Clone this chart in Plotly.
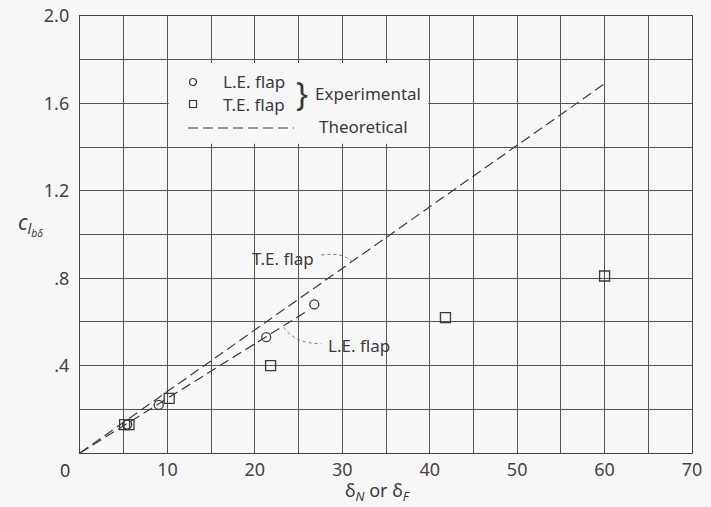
import plotly.graph_objects as go

# ---- data ----
le_x = [5.4, 9.0, 21.3, 26.8]
le_y = [0.13, 0.22, 0.53, 0.68]

te_x = [5.1, 5.6, 10.2, 21.8, 41.8, 60.0]
te_y = [0.13, 0.13, 0.25, 0.40, 0.62, 0.81]

theory_te_x = [0, 60]
theory_te_y = [0, 1.69]
theory_le_x = [0, 26]
theory_le_y = [0, 0.65]

x_tickvals = [0, 5, 10, 15, 20, 25, 30, 35, 40, 45, 50, 55, 60, 65, 70]
x_ticktext = ["", "", "10", "", "20", "", "30", "", "40", "", "50", "", "60", "", "70"]
y_tickvals = [0, 0.2, 0.4, 0.6, 0.8, 1.0, 1.2, 1.4, 1.6, 1.8, 2.0]
y_ticktext = ["", "", ".4", "", ".8", "", "1.2", "", "1.6", "", "2.0"]
corner_label = "0"

BG = "#f7f7f7"
INK = "#3a3a3a"
FONT = "Noto Sans"

# plot area in pixels
L, R, T, B = 80, 692, 16, 453
W, H = 711, 507


def px(x):
    return (x - L) / (R - L)


def py(y):
    return (B - y) / (B - T)


fig = go.Figure()

dash = "10px,5px"
fig.add_trace(go.Scatter(x=theory_te_x, y=theory_te_y, mode="lines",
                         line=dict(color=INK, width=1.2, dash=dash),
                         showlegend=False, hoverinfo="skip"))
fig.add_trace(go.Scatter(x=theory_le_x, y=theory_le_y, mode="lines",
                         line=dict(color=INK, width=1.2, dash=dash),
                         showlegend=False, hoverinfo="skip"))
fig.add_trace(go.Scatter(x=le_x, y=le_y, mode="markers",
                         marker=dict(symbol="circle-open", size=9,
                                     line=dict(color=INK, width=1.3), color=INK),
                         showlegend=False))
fig.add_trace(go.Scatter(x=te_x, y=te_y, mode="markers",
                         marker=dict(symbol="square-open", size=10,
                                     line=dict(color=INK, width=1.3), color=INK),
                         showlegend=False))

shapes = []
# blank area behind the legend (grid interrupted)
shapes.append(dict(type="rect", xref="x", yref="y", x0=10.15, x1=39.85, y0=1.415, y1=1.785,
                   fillcolor=BG, line=dict(width=0), layer="above"))
# legend dashed line
shapes.append(dict(type="line", xref="paper", yref="paper",
                   x0=px(188), x1=px(294), y0=py(128), y1=py(128),
                   line=dict(color=INK, width=1.2, dash=dash), layer="above"))
# legend symbols (pixel sized)
shapes.append(dict(type="circle", xref="paper", yref="paper",
                   xsizemode="pixel", ysizemode="pixel",
                   xanchor=px(193), yanchor=py(82), x0=-3.5, x1=3.5, y0=-3.5, y1=3.5,
                   line=dict(color=INK, width=1.2), fillcolor=BG, layer="above"))
shapes.append(dict(type="rect", xref="paper", yref="paper",
                   xsizemode="pixel", ysizemode="pixel",
                   xanchor=px(193), yanchor=py(104), x0=-3.5, x1=3.5, y0=-3.5, y1=3.5,
                   line=dict(color=INK, width=1.2), fillcolor=BG, layer="above"))
# leader lines
shapes.append(dict(type="path", xref="x", yref="y",
                   path="M 27.6,0.906 Q 30.0,0.92 31.2,0.875",
                   line=dict(color="#777", width=1, dash="dot")))
shapes.append(dict(type="path", xref="x", yref="y",
                   path="M 23.3,0.575 Q 24.6,0.50 27.6,0.50",
                   line=dict(color="#777", width=1, dash="dot")))

ann = []


def text(x, y, s, anchor="left", size=17):
    ann.append(dict(x=px(x), y=py(y), xref="paper", yref="paper", text=s,
                    showarrow=False, xanchor=anchor, yanchor="middle",
                    font=dict(family=FONT, size=size, color=INK)))


text(221, 82, "L.E. flap")
text(221, 104, "T.E. flap")
text(302, 93, "}", "center", 32)
text(313, 94, "Experimental")
text(317, 127, "Theoretical")
text(283, 258, "T.E. flap", "center")
text(326, 345, "L.E. flap")
text(72, 470, corner_label, "right", 18)

# axis titles
ann.append(dict(x=px(30), y=py(224), xref="paper", yref="paper",
                text="<i>c</i><sub><i>l</i><sub><i>bδ</i></sub></sub>",
                showarrow=False, xanchor="center", yanchor="middle",
                font=dict(family=FONT, size=21, color=INK)))
ann.append(dict(x=px(377), y=py(491), xref="paper", yref="paper",
                text="δ<sub><i>N</i></sub> or δ<sub><i>F</i></sub>",
                showarrow=False, xanchor="center", yanchor="middle",
                font=dict(family=FONT, size=18, color=INK)))

fig.update_layout(
    width=W, height=H,
    margin=dict(l=L, r=W - R, t=T, b=H - B, autoexpand=False),
    paper_bgcolor=BG, plot_bgcolor=BG,
    shapes=shapes, annotations=ann,
    showlegend=False,
    font=dict(family=FONT, color=INK),
)
fig.update_xaxes(range=[0, 70], tickvals=x_tickvals, ticktext=x_ticktext,
                 showgrid=True, gridcolor="#555", gridwidth=1,
                 showline=True, linecolor="#444", linewidth=1.3, mirror=True,
                 zeroline=False, ticks="", automargin=False,
                 tickfont=dict(family=FONT, size=18, color="#444"))
fig.update_yaxes(range=[0, 2.0], tickvals=y_tickvals, ticktext=y_ticktext,
                 showgrid=True, gridcolor="#555", gridwidth=1,
                 showline=True, linecolor="#444", linewidth=1.3, mirror=True,
                 zeroline=False, ticks="", ticklabelstandoff=6, automargin=False,
                 tickfont=dict(family=FONT, size=18, color="#444"))

fig.write_html(
    "out.html",
    config={"displayModeBar": False},
    post_script="document.body.style.margin='0';document.body.style.background='%s';" % BG,
)
